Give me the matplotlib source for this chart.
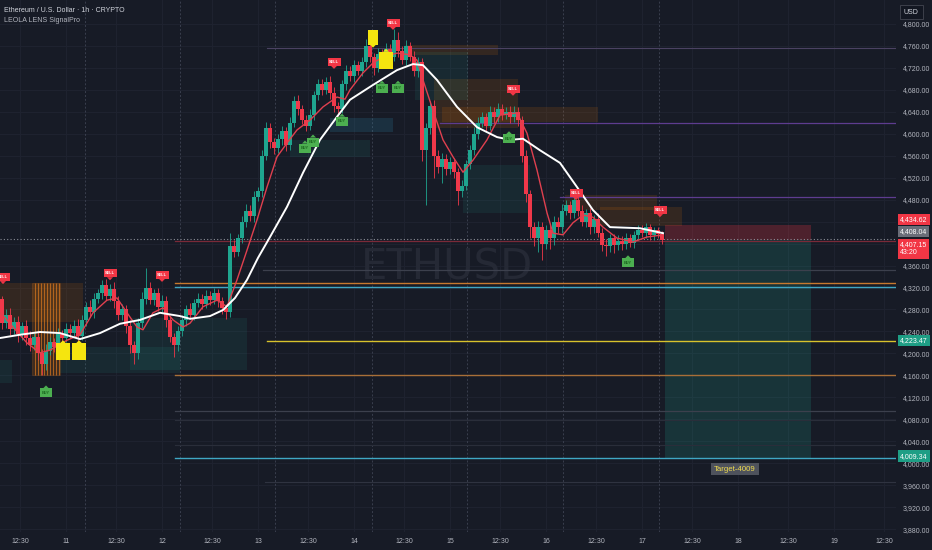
import numpy as np
import matplotlib
matplotlib.use("Agg")
import matplotlib.pyplot as plt
from matplotlib.patches import Rectangle, Polygon
from matplotlib.transforms import blended_transform_factory

plt.rcParams['font.family'] = ['Liberation Sans', 'DejaVu Sans']

BG = '#171B26'
GREEN = '#1FA58F'
RED = '#F0384A'
TXT = '#B2B5BE'

# hourly candles, first candle = Sep 10 08:00 (hours counted from Sep 10 00:00)
first_hour = 8
closes = [
    4255, 4270, 4245, 4258, 4235, 4250, 4228, 4215, 4230, 4200,
    4180, 4205, 4220, 4212, 4235, 4228, 4245, 4238, 4250, 4232,
    4260, 4285, 4275, 4300, 4310, 4325, 4305, 4318, 4295, 4270,
    4280, 4250, 4215, 4200, 4255, 4300, 4320, 4298, 4310, 4285,
    4295, 4260, 4230, 4215, 4240, 4260, 4280, 4270, 4292, 4300,
    4290, 4305, 4298, 4310, 4295, 4282, 4275, 4395, 4385, 4410,
    4440, 4460, 4450, 4485, 4495, 4560, 4610, 4585, 4575, 4590,
    4605, 4580, 4620, 4660, 4645, 4625, 4615, 4635, 4670, 4690,
    4680, 4695, 4675, 4650, 4645, 4690, 4715, 4705, 4725, 4715,
    4730, 4760, 4740, 4720, 4745, 4730, 4755, 4740, 4770, 4750,
    4735, 4760, 4740, 4715, 4730, 4570, 4610, 4650, 4560, 4540,
    4555, 4535, 4548, 4530, 4495, 4505, 4545, 4570, 4600, 4620,
    4630, 4615, 4640, 4630, 4645, 4635, 4640, 4630, 4640, 4625,
    4560, 4490, 4430, 4410, 4430, 4400, 4425, 4410, 4440, 4430,
    4460, 4470, 4455, 4480, 4460, 4440, 4455, 4430, 4445, 4420,
    4398, 4395, 4410, 4398, 4405, 4400, 4410, 4402, 4415, 4425,
    4420, 4430, 4415, 4425, 4418, 4407,
]
first_open = 4300
wick_up = [
    5, 10, 12, 8, 10, 8, 10, 12, 8, 10,
    8, 12, 10, 8, 12, 8, 10, 8, 10, 12,
    10, 8, 12, 10, 8, 8, 10, 8, 12, 10,
    10, 8, 10, 8, 10, 12, 35, 10, 8, 10,
    12, 10, 8, 8, 10, 10, 8, 12, 8, 10,
    8, 10, 8, 10, 8, 8, 8, 25, 12, 8,
    10, 12, 10, 10, 8, 10, 12, 10, 8, 10,
    10, 8, 10, 8, 10, 8, 10, 10, 8, 10,
    10, 8, 10, 10, 8, 8, 10, 8, 10, 8,
    10, 12, 10, 8, 12, 10, 10, 8, 20, 15,
    10, 10, 8, 10, 10, 8, 10, 10, 12, 10,
    10, 8, 10, 8, 8, 10, 8, 10, 12, 10,
    10, 8, 10, 8, 12, 10, 8, 10, 10, 8,
    8, 10, 8, 10, 12, 10, 8, 10, 10, 8,
    12, 10, 8, 15, 8, 10, 8, 10, 8, 10,
    8, 10, 8, 8, 10, 8, 10, 8, 8, 8,
    8, 8, 6, 6, 5, 5,
]
wick_dn = [
    10, 8, 12, 10, 15, 10, 12, 10, 8, 12,
    20, 10, 8, 10, 8, 10, 8, 10, 8, 10,
    8, 10, 8, 10, 8, 10, 8, 10, 12, 10,
    10, 12, 15, 20, 10, 8, 10, 8, 10, 8,
    10, 12, 10, 22, 10, 8, 10, 8, 10, 8,
    10, 8, 10, 8, 10, 10, 12, 8, 10, 8,
    8, 10, 8, 10, 8, 10, 8, 10, 12, 10,
    10, 12, 10, 8, 10, 8, 10, 8, 10, 8,
    10, 8, 12, 10, 12, 8, 10, 8, 10, 8,
    10, 8, 10, 12, 8, 10, 8, 10, 8, 10,
    8, 10, 8, 10, 12, 20, 100, 10, 40, 12,
    30, 10, 8, 10, 25, 10, 8, 10, 8, 10,
    8, 10, 8, 10, 8, 10, 8, 10, 8, 10,
    12, 15, 20, 15, 25, 30, 10, 20, 12, 10,
    10, 8, 10, 8, 10, 8, 10, 12, 10, 8,
    12, 18, 10, 15, 10, 12, 10, 8, 10, 8,
    8, 10, 8, 8, 8, 8,
]

# slow MA (white) and fast MA (red): (hour, price)
slow_h = [7.5, 12.5, 17.5, 22.5, 27.5, 32.5, 37.5, 42.5, 47.5, 52.5, 55, 60, 63.25, 66.25,
          69.25, 72, 75, 79.25, 83.25, 87.5, 91.75, 95, 100.75, 106.75, 110.75, 113.25,
          116.75, 121.75, 126.75, 131.75, 135, 138.25, 142.5, 147.5, 151.75, 155.75, 160,
          167.5, 173.25]
slow_p = [4228, 4234, 4239, 4237, 4226, 4237, 4254, 4261, 4274, 4268, 4263, 4268, 4279, 4301,
          4334, 4374, 4412, 4467, 4529, 4589, 4631, 4662, 4689, 4716, 4727, 4725,
          4698, 4649, 4612, 4594, 4589, 4591, 4570, 4547, 4503, 4461, 4430,
          4428, 4419]
fast_h = [7.5, 10.75, 14.25, 17.5, 20, 24.25, 27.5, 30.75, 34.25, 36.75, 39.25, 41.75, 43.25,
          45.75, 48.25, 50.75, 53.25, 55, 58.25, 61.75, 64.25, 66.75, 69.25, 71.75, 74.25,
          76.75, 79.25, 81.75, 85, 88.25, 91.75, 93.75, 95, 98.25, 100.75, 103.25, 106.75,
          110, 111.75, 113.25, 115.75, 118.25, 120.75, 123.25, 125.75, 129.25, 132.5,
          136.75, 139.25, 141.75, 144.25, 145.75, 148.25, 150.75, 153.25, 155.75, 158.25,
          161.75, 165.75, 169.25, 173.25]
fast_p = [4275, 4248, 4219, 4201, 4206, 4224, 4234, 4274, 4297, 4301, 4274, 4248, 4243,
          4274, 4283, 4261, 4248, 4255, 4285, 4297, 4285, 4334, 4388, 4443, 4503,
          4558, 4583, 4607, 4625, 4649, 4667, 4663, 4680, 4711, 4729, 4740, 4747,
          4744, 4734, 4698, 4643, 4589, 4558, 4530, 4552, 4589, 4634,
          4638, 4601, 4534, 4456, 4419, 4416, 4438, 4452, 4448, 4430,
          4410, 4403, 4412, 4416]

# zones: (h0, h1, p_low, p_high)
supply_zones = [(108.75, 132, 4744, 4762), (116, 137, 4611, 4700), (118, 157, 4622, 4649),
                (148.75, 171.75, 4461, 4489), (157.5, 178, 4432, 4467), (7.5, 28.25, 4257, 4328)]
demand_zones = [(7.5, 10.5, 4146, 4188), (22.5, 52.5, 4164, 4212), (40, 69.25, 4170, 4264),
                (111.25, 124.5, 4662, 4749), (80, 100, 4558, 4589), (123.25, 140, 4456, 4543)]
blue_zones = [(90, 105.75, 4603, 4629)]
striped_zone = (15.5, 22.5, 4161, 4328)

entry_price = 4407.15
stop_price = 4434.62
target_price = 4009.34
last_price = 4408.04
trade_h = (173.75, 210.25)

# horizontal levels: (price, start hour, colour, width)
levels = [
    (4756, 74.25, '#4B4262', 0.8),
    (4620, 117.5, '#5E3C8F', 0.9),
    (4485, 147.5, '#5E3C8F', 0.9),
    (4405, 51.25, '#7A2A38', 0.9),
    (4352, 73.25, '#3C404D', 0.9),
    (4328, 51.25, '#C7792E', 1.0),
    (4321, 51.25, '#3FA7C4', 1.0),
    (4223.47, 74.25, '#D8C22C', 1.0),
    (4161, 51.25, '#A86F38', 1.0),
    (4095, 51.25, '#3C404D', 0.9),
    (4079, 51.25, '#2A2E3A', 0.8),
    (4033, 51.25, '#2A2E3A', 0.8),
    (4009.34, 51.25, '#3FA7C4', 1.0),
    (3966, 73.75, '#2F3340', 0.8),
]
session_breaks = [28.75, 52.5, 76.25, 100.5, 124.25, 148.25, 172.25]

sell_tags = [(8.25, 4339), (35, 4346), (48, 4343), (91, 4731), (105.75, 4802),
             (135.75, 4682), (151.5, 4492), (172.5, 4461)]
buy_tags = [(19, 4128), (83.75, 4574), (85.75, 4585), (93, 4623), (103, 4683),
            (107, 4683), (134.75, 4591), (164.5, 4365)]
yellow_up = [(23.25, 4203), (27.25, 4203), (104, 4734)]
yellow_down = [(100.75, 4776)]

tick_prices = list(range(3880, 4801, 40))
hidden_ticks = [4400, 4440]   # covered by the price tags on the chart
time_ticks = [12.5, 24, 36.5, 48, 60.5, 72, 84.5, 96, 108.5, 120, 132.5, 144,
              156.5, 168, 180.5, 192, 204.5, 216, 228.5]
time_labels = ['12:30', '11', '12:30', '12', '12:30', '13', '12:30', '14', '12:30', '15',
               '12:30', '16', '12:30', '17', '12:30', '18', '12:30', '19', '12:30']

# ---------------------------------------------------------------
fig = plt.figure(figsize=(9.32, 5.5), dpi=100, facecolor=BG)
ax = fig.add_axes([0, 18 / 550, 896 / 932, 532 / 550])
ax.set_facecolor(BG)
ax.set_xlim(7.5, 231.5)
ax.set_ylim(3874.7, 4843.7)
for s in ax.spines.values():
    s.set_visible(False)

# grid
for t in time_ticks:
    ax.axvline(t, color='#1F2330', lw=0.7, zorder=0)
for p in tick_prices:
    ax.axhline(p, color='#1F2330', lw=0.7, zorder=0)
for t in session_breaks:
    ax.axvline(t, color='#3A3F4E', lw=0.7, ls=(0, (2, 2)), zorder=0.5)

PXH = 0.25      # hours per pixel
PXP = 1.8215    # dollars per pixel

# watermark
ax.text(119.25, 4356, 'ETHUSD', fontsize=30, color='#252935', ha='center', va='center',
        family=['DejaVu Sans'], zorder=0.6)

# zones
for h0, h1, lo, hi in supply_zones:
    ax.add_patch(Rectangle((h0, lo), h1 - h0, hi - lo, fc='#F57C00', alpha=0.13, ec='none', zorder=1))
for h0, h1, lo, hi in demand_zones:
    ax.add_patch(Rectangle((h0, lo), h1 - h0, hi - lo, fc='#22AB94', alpha=0.10, ec='none', zorder=1))
for h0, h1, lo, hi in blue_zones:
    ax.add_patch(Rectangle((h0, lo), h1 - h0, hi - lo, fc='#2D7FA0', alpha=0.22, ec='none', zorder=1))
h0, h1, lo, hi = striped_zone
ax.add_patch(Rectangle((h0, lo), h1 - h0, hi - lo, fc='#F57C00', alpha=0.18, ec='#E07B20', lw=0.8, zorder=1))
ax.vlines(np.arange(h0 + 0.75, h1, 0.75), lo, hi, color='#E07B20', lw=0.6, alpha=0.8, zorder=1)

# trade boxes
ax.add_patch(Rectangle((trade_h[0], target_price), trade_h[1] - trade_h[0], entry_price - target_price,
                       fc='#22AB94', alpha=0.18, ec='none', zorder=1))
ax.add_patch(Rectangle((trade_h[0], entry_price), trade_h[1] - trade_h[0], stop_price - entry_price,
                       fc='#F23645', alpha=0.25, ec='none', zorder=1))

# levels
for p, hs, c, w in levels:
    ax.plot([hs, 231.5], [p, p], color=c, lw=w, zorder=1.5)
ax.axhline(last_price, color='#8A8D96', lw=0.8, ls=(0, (1, 2)), zorder=1.5)

# candles
hours = np.arange(first_hour, first_hour + len(closes))
c = np.array(closes, dtype=float)
o = np.concatenate([[first_open], c[:-1]])
hi_ = np.maximum(o, c) + np.array(wick_up)
lo_ = np.minimum(o, c) - np.array(wick_dn)
cols = [GREEN if cc >= oo else RED for oo, cc in zip(o, c)]
ax.vlines(hours, lo_, hi_, colors=cols, lw=0.6, zorder=3)
ax.bar(hours, np.maximum(np.abs(c - o), 1.5), bottom=np.minimum(o, c), width=0.8,
       color=cols, edgecolor='none', zorder=3)

# moving averages
ax.plot(fast_h, fast_p, color='#E0404F', lw=1.0, zorder=4)
ax.plot(slow_h, slow_p, color='white', lw=1.4, zorder=4)


def tag(h, p, w, hg, fc, up, label=None, tc='white', fs=2.8):
    dx, dy = w * PXH / 2, hg * PXP / 2
    ax.add_patch(Rectangle((h - dx, p - dy), 2 * dx, 2 * dy, fc=fc, ec='none', zorder=5))
    if up:
        tri = [(h - 3 * PXH, p + dy), (h + 3 * PXH, p + dy), (h, p + dy + 3 * PXP)]
    else:
        tri = [(h - 3 * PXH, p - dy), (h + 3 * PXH, p - dy), (h, p - dy - 3 * PXP)]
    ax.add_patch(Polygon(tri, closed=True, fc=fc, ec='none', zorder=5))
    if label:
        ax.text(h, p, label, fontsize=fs, color=tc, ha='center', va='center',
                fontweight='bold', zorder=6)


for h, p in sell_tags:
    tag(h, p, 13, 8, '#F23645', False, 'SELL')
for h, p in buy_tags:
    tag(h, p, 12, 9, '#4CAF50', True, 'BUY', tc='#1E6B22')
for h, p in yellow_up:
    tag(h, p, 14, 17, '#F5E50F', True)
for h, p in yellow_down:
    tag(h, p, 10, 15, '#F5E50F', False)

# target label
ax.text(191.25, 3989, 'Target-4009', fontsize=5.6, color='#F0DC50', ha='center', va='center',
        bbox=dict(boxstyle='square,pad=0.35', fc='#4E525C', ec='none'), zorder=6)

# axes ticks
ax.yaxis.tick_right()
ax.set_yticks(tick_prices)
ax.set_yticklabels(['' if p in hidden_ticks else f'{p:,.2f}' for p in tick_prices])
ax.tick_params(axis='y', length=0, pad=5, labelsize=5, labelcolor=TXT)
ax.set_xticks(time_ticks)
ax.set_xticklabels(time_labels)
ax.tick_params(axis='x', length=0, pad=4, labelsize=5, labelcolor=TXT)

# price tags on the axis (offset in pixels so they stack like on the chart)
tr = blended_transform_factory(ax.transAxes, ax.transData)
price_tags = [(stop_price, '4,434.62', '#F23645', 5), (last_price, '4,408.04', '#6A6D78', 8),
              (entry_price, '4,407.15\n43:20', '#F23645', -9),
              (4223.47, '4,223.47', '#1E9E85', 0), (target_price, '4,009.34', '#1E9E85', 2)]
for p, lab, fc, off in price_tags:
    ax.annotate(lab, xy=(1.0, p), xycoords=tr, xytext=(4, off), textcoords='offset pixels',
                fontsize=5, color='white', ha='left', va='center', linespacing=1.3,
                bbox=dict(boxstyle='square,pad=0.3', fc=fc, ec='none'), zorder=7,
                annotation_clip=False)

fig.text(904 / 932, 1 - 12 / 550, 'USD', fontsize=5, color='#D1D4DC', ha='left', va='center',
         bbox=dict(boxstyle='square,pad=0.55', fc='#131722', ec='#434651', lw=0.6))

fig.text(4 / 932, 1 - 10 / 550, 'Ethereum / U.S. Dollar · 1h · CRYPTO', fontsize=5,
         color='#D1D4DC', ha='left', va='center')
fig.text(4 / 932, 1 - 21 / 550, 'LEOLA LENS SignalPro', fontsize=5,
         color='#B2B5BE', ha='left', va='center')

fig.savefig('out.png', dpi=100, facecolor=BG)
